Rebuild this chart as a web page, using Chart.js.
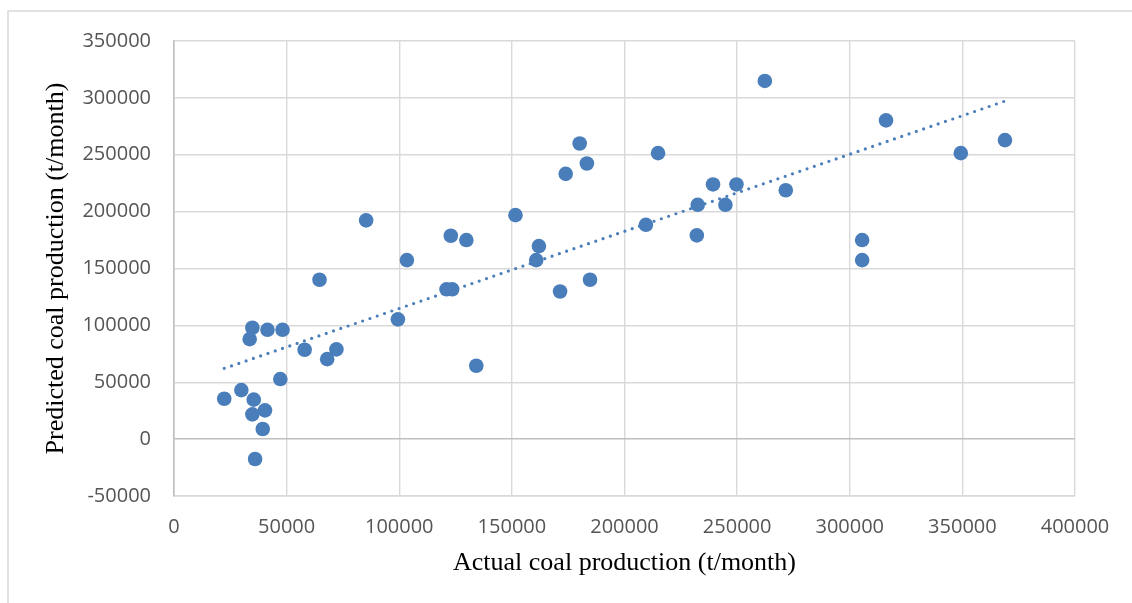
<!DOCTYPE html>
<html>
<head>
<meta charset="utf-8">
<script src="https://cdn.jsdelivr.net/npm/chart.js@4.4.0/dist/chart.umd.min.js"></script>
<style>
    body { margin: 0; background: #fff; }
    #wrap { position: relative; width: 1132px; height: 603px; }
</style>
</head>
<body>
<div id="wrap"><canvas id="coal-chart"></canvas></div>
<script>
    // Actual vs predicted coal production (t/month)
    var actual = [
        22300, 29900, 33600, 34800, 34800, 35400, 36000, 39400, 40400, 41500,
        47200, 48200, 58000, 64600, 68000, 72100, 85300, 99400, 103400, 121000,
        123500, 122900, 129800, 134200, 151600, 160800, 162000, 171400, 173900, 180100,
        183300, 184700, 209500, 214900, 232100, 232500, 239300, 244800, 249700, 262300,
        271600, 305500, 305500, 316100, 349300, 368900
    ];
    var predicted = [
        35500, 43100, 87900, 97900, 21800, 34700, -17500, 8900, 25300, 96100,
        52800, 96100, 78600, 140100, 70300, 78900, 192300, 105300, 157400, 131700,
        131700, 178800, 175000, 64500, 196900, 157400, 169700, 129800, 233200, 259900,
        242300, 140100, 188400, 251400, 179100, 206000, 223900, 206000, 223900, 314900,
        218800, 175000, 157400, 280200, 251400, 262900
    ];
    // linear trendline end points
    var trendX = [22300, 368800];
    var trendY = [62200, 297100];

    var xTicks = { min: 0, max: 400000, step: 50000 };
    var yTicks = { min: -50000, max: 350000, step: 50000 };

    var blue = "#4a7ebb";
    var gridGrey = "#d9d9d9";
    var axisGrey = "#bfbfbf";
    var tickFont = { family: "'Open Sans', sans-serif", size: 20 };
    var titleFont = { family: "'Liberation Serif', 'Times New Roman', serif", size: 26 };

    var points = actual.map(function (x, i) { return { x: x, y: predicted[i] }; });
    var trend = trendX.map(function (x, i) { return { x: x, y: trendY[i] }; });

    // light frame round the chart, like the office chart box
    var frame = {
        id: "frame",
        beforeDraw: function (chart) {
            var ctx = chart.ctx;
            ctx.save();
            ctx.strokeStyle = gridGrey;
            ctx.lineWidth = 1.5;
            ctx.beginPath();
            ctx.moveTo(8, chart.height);
            ctx.lineTo(8, 11);
            ctx.lineTo(chart.width, 11);
            ctx.stroke();
            ctx.restore();
        }
    };

    var ctx = document.getElementById("coal-chart").getContext("2d");
    var coalChart = new Chart(ctx, {
        type: "scatter",
        data: {
            datasets: [{
                label: "Predicted",
                data: points,
                backgroundColor: blue,
                borderColor: blue,
                pointRadius: 7.3,
                pointHoverRadius: 7.3,
                borderWidth: 0
            },
            {
                label: "Trend",
                data: trend,
                showLine: true,
                borderColor: blue,
                borderWidth: 3.2,
                borderDash: [0, 7.7],
                borderCapStyle: "round",
                pointRadius: 0,
                fill: false
            }]
        },
        options: {
            responsive: true,
            maintainAspectRatio: false,
            animation: false,
            layout: { padding: { top: 41, right: 57, left: 0, bottom: 0 } },
            plugins: {
                legend: { display: false },
                tooltip: { enabled: false }
            },
            scales: {
                x: {
                    type: "linear",
                    min: xTicks.min,
                    max: xTicks.max,
                    afterFit: function (scale) { scale.height = 107; },
                    ticks: {
                        stepSize: xTicks.step,
                        color: "#555",
                        font: tickFont,
                        padding: 19,
                        maxRotation: 0,
                        callback: function (v) { return String(v); }
                    },
                    grid: {
                        color: function (c) { return c.tick && c.tick.value === 0 ? axisGrey : gridGrey; },
                        lineWidth: 1.4,
                        drawTicks: false
                    },
                    border: { color: gridGrey, width: 1.4 },
                    title: {
                        display: true,
                        text: "Actual coal production (t/month)",
                        color: "#000",
                        font: titleFont,
                        padding: { top: 0, bottom: 24 }
                    }
                },
                y: {
                    type: "linear",
                    min: yTicks.min,
                    max: yTicks.max,
                    afterFit: function (scale) { scale.width = 174; },
                    ticks: {
                        stepSize: yTicks.step,
                        color: "#555",
                        font: tickFont,
                        padding: 23,
                        callback: function (v) { return String(v); }
                    },
                    grid: {
                        color: function (c) { return c.tick && c.tick.value === 0 ? axisGrey : gridGrey; },
                        lineWidth: 1.4,
                        drawTicks: false
                    },
                    border: { color: axisGrey, width: 1.4 },
                    title: {
                        display: true,
                        text: "Predicted coal production (t/month)",
                        color: "#000",
                        font: titleFont,
                        padding: { top: 41, bottom: 0 }
                    }
                }
            }
        },
        plugins: [frame]
    });
</script>
</body>
</html>
